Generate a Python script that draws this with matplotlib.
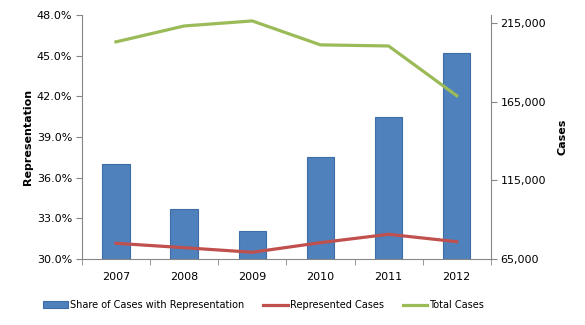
import numpy as np
import matplotlib
matplotlib.use("Agg")
import matplotlib.pyplot as plt
from matplotlib.ticker import FuncFormatter

years = ["2007", "2008", "2009", "2010", "2011", "2012"]
share = [37.0, 33.7, 32.1, 37.5, 40.5, 45.2]  # % of cases with representation
represented = [75000, 72200, 69300, 75400, 80700, 76000]
total = [202900, 213000, 216200, 201000, 200300, 168700]

blue = "#4F81BD"
red = "#C0504D"
green = "#9BBB59"
grey = "#868686"

plt.rcParams["font.family"] = ["DejaVu Sans"]

fig = plt.figure(figsize=(5.85, 3.25), dpi=100)
ax = fig.add_axes([0.140, 0.203, 0.699, 0.751])
x = np.arange(len(years))

bars = ax.bar(x, share, width=0.4, color=blue, edgecolor="#3C6DA8", linewidth=0.8,
              bottom=0, label="Share of Cases with Representation")
ax.set_ylim(30, 48)
ax.set_yticks(np.arange(30, 48.1, 3))
ax.yaxis.set_major_formatter(FuncFormatter(lambda v, p: "%.1f%%" % v))
ax.set_xlim(-0.5, len(years) - 0.5)
ax.set_xticks(x)
ax.set_xticklabels(years)
ax.set_xticks(np.arange(-0.5, len(years)), minor=True)
ax.tick_params(axis="x", which="major", length=0, pad=9, labelsize=8)
ax.tick_params(axis="x", which="minor", length=4, color=grey)
ax.tick_params(axis="y", length=4, color=grey, labelsize=8, pad=3)
ax.set_ylabel("Representation", fontsize=8, fontweight="bold", labelpad=3)

ax2 = ax.twinx()
l1, = ax2.plot(x, represented, color=red, lw=2.3, label="Represented Cases")
l2, = ax2.plot(x, total, color=green, lw=2.3, label="Total Cases")
ax2.set_ylim(65000, 220000)
ax2.set_yticks([65000, 115000, 165000, 215000])
ax2.yaxis.set_major_formatter(FuncFormatter(lambda v, p: "{:,.0f}".format(v)))
ax2.tick_params(axis="y", length=4, color=grey, labelsize=8, pad=3)
ax2.set_ylabel("Cases", fontsize=8, fontweight="bold", labelpad=8)

for a in (ax, ax2):
    a.spines["top"].set_visible(False)
    for s in ("left", "right", "bottom"):
        a.spines[s].set_color(grey)
ax2.spines["bottom"].set_visible(False)
ax2.spines["left"].set_visible(False)
ax.spines["right"].set_visible(False)

fig.legend([bars, l1, l2], [bars.get_label(), l1.get_label(), l2.get_label()],
           loc="center", bbox_to_anchor=(0.451, 0.062), ncol=3, frameon=False,
           fontsize=7, handlelength=2.5, handleheight=0.6, handletextpad=0.2,
           columnspacing=2.0)

fig.savefig("out.png", dpi=100)
